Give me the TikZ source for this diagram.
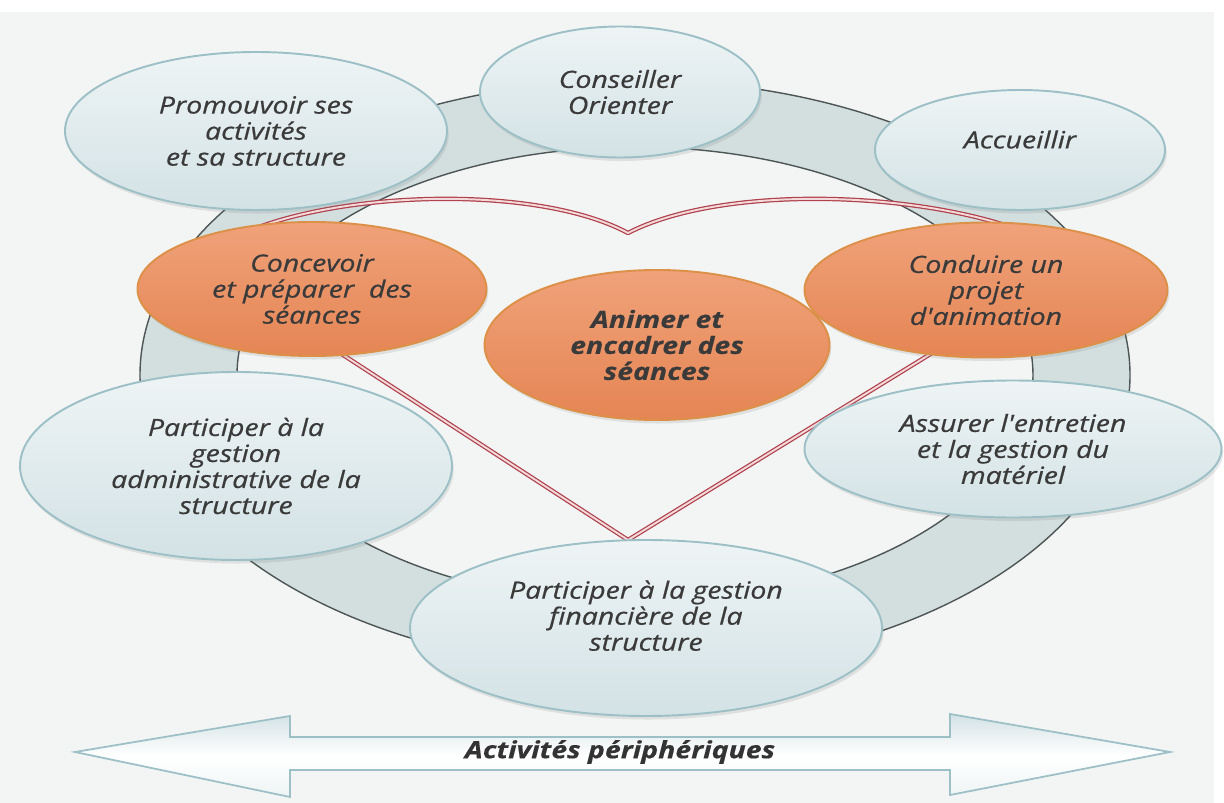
\documentclass[tikz,border=0pt]{standalone}
\usepackage{fontspec}
\setmainfont{Open Sans}
\newfontfamily\fonteBulle[FakeStretch=1.2, FakeBold=0.6]{Open Sans}
\newfontfamily\fonteGras[FakeStretch=1.2, FakeBold=0.4]{Open Sans}
\usetikzlibrary{positioning, shapes.geometric, shadows}

\begin{document}
\begin{tikzpicture}[
    x=0.02cm, y=-0.02cm,
    bulle/.style={ellipse, draw=cBulleBord, line width=1.1pt, top color=cBulleHaut, bottom color=cBulleBas, inner sep=0pt,
        drop shadow={shadow xshift=1pt, shadow yshift=-2pt, opacity=0.18}},
    orange/.style={ellipse, draw=cOrangeBord, line width=1.1pt, top color=cOrangeHaut, bottom color=cOrangeBas, inner sep=0pt,
        drop shadow={shadow xshift=1pt, shadow yshift=-2pt, opacity=0.18}},
    txt/.style={align=center, font=\fonteBulle\itshape\fontsize{13.5}{14.8}\selectfont, text=cTexte},
    txtb/.style={txt, font=\fonteGras\bfseries\itshape\fontsize{13.5}{14.8}\selectfont},
    coeur/.style={draw=cCoeur, double=cCoeurDouble, line width=0.7pt, double distance=1.1pt, line join=round},
    anneau/.style={draw=cAnneauBord, line width=0.8pt}]

\definecolor{cFond}{HTML}{F3F5F5}
\definecolor{cAnneau}{HTML}{D3DFDF}
\definecolor{cAnneauBord}{HTML}{4D5555}
\definecolor{cBulleHaut}{HTML}{EEF4F5}
\definecolor{cBulleBas}{HTML}{D3E2E5}
\definecolor{cBulleBord}{HTML}{9DC0C6}
\definecolor{cOrangeHaut}{HTML}{F0A27A}
\definecolor{cOrangeBas}{HTML}{E58554}
\definecolor{cOrangeBord}{HTML}{DC9048}
\definecolor{cCoeur}{HTML}{B0404C}
\definecolor{cCoeurDouble}{HTML}{F2DADA}
\definecolor{cTexte}{HTML}{3A3A3A}

\pgfmathsetmacro{\u}{0.02}

% FOND
\useasboundingbox (0,0) rectangle (1224,803);
\fill[white] (0,0) rectangle (1224,803);
\fill[cFond] (0,12) rectangle (1214,803);

% Anneau des activités
\coordinate (centre) at (635,375);
\fill[cAnneau, even odd rule] (centre) ellipse [x radius=495, y radius=295]
                              (centre) ellipse [x radius=398, y radius=228];
\draw[anneau] (centre) ellipse [x radius=495, y radius=295];
\draw[anneau] (centre) ellipse [x radius=398, y radius=228];

% Coeur du métier
\coordinate (pointe) at (628,540);
\draw[coeur] (pointe) -- (200,262) .. controls (260,195) and (520,175) .. (628,233)
             .. controls (740,175) and (1000,195) .. (1080,262) -- cycle;

% Bulles périphériques
\node[bulle, minimum width=382*\u*1cm, minimum height=158*\u*1cm] (promouvoir) at (256,131) {};
\node[bulle, minimum width=280*\u*1cm, minimum height=131*\u*1cm] (conseiller) at (620,92) {};
\node[bulle, minimum width=290*\u*1cm, minimum height=120*\u*1cm] (accueillir) at (1020,150) {};
\node[bulle, minimum width=432*\u*1cm, minimum height=188*\u*1cm] (admin) at (236,466) {};
\node[bulle, minimum width=417*\u*1cm, minimum height=137*\u*1cm] (materiel) at (1013,449) {};
\node[bulle, minimum width=472*\u*1cm, minimum height=176*\u*1cm] (finance) at (646,628) {};

% Bulles centrales
\node[orange, minimum width=349*\u*1cm, minimum height=134*\u*1cm] (concevoir) at (312,289) {};
\node[orange, minimum width=345*\u*1cm, minimum height=150*\u*1cm] (animer) at (657,345) {};
\node[orange, minimum width=363*\u*1cm, minimum height=135*\u*1cm] (conduire) at (986,290) {};

% Textes
\node[txt] (promouvoir-t) at (promouvoir) {Promouvoir ses\\activités\\et sa structure};
\node[txt] (conseiller-t) at (conseiller) {Conseiller\\Orienter};
\node[txt, yshift=6pt] (accueillir-t) at (accueillir) {Accueillir};
\node[txt] (admin-t) at (admin) {Participer à la\\gestion\\administrative de la\\structure};
\node[txt] (materiel-t) at (materiel) {Assurer l'entretien\\et la gestion du\\matériel};
\node[txt, yshift=7pt] (finance-t) at (finance) {Participer à la gestion\\financière de la\\structure};
\node[txt] (concevoir-t) at (concevoir) {Concevoir\\et préparer\ \ des\\séances};
\node[txtb] (animer-t) at (animer) {Animer et\\encadrer des\\séances};
\node[txt] (conduire-t) at (conduire) {Conduire un\\projet\\d'animation};

% Flèche double du bas
\draw[draw=cBulleBord, line width=1pt, top color=cBulleBas, bottom color=cBulleHaut, middle color=white]
    (75,752) -- (290,716) -- (290,737) -- (950,737) -- (950,714) -- (1170,752)
    -- (950,795) -- (950,770) -- (290,770) -- (290,797) -- cycle;
\node[txtb, text=black!80] (peri) at (620,752) {Activités périphériques};

\end{tikzpicture}
\end{document}
